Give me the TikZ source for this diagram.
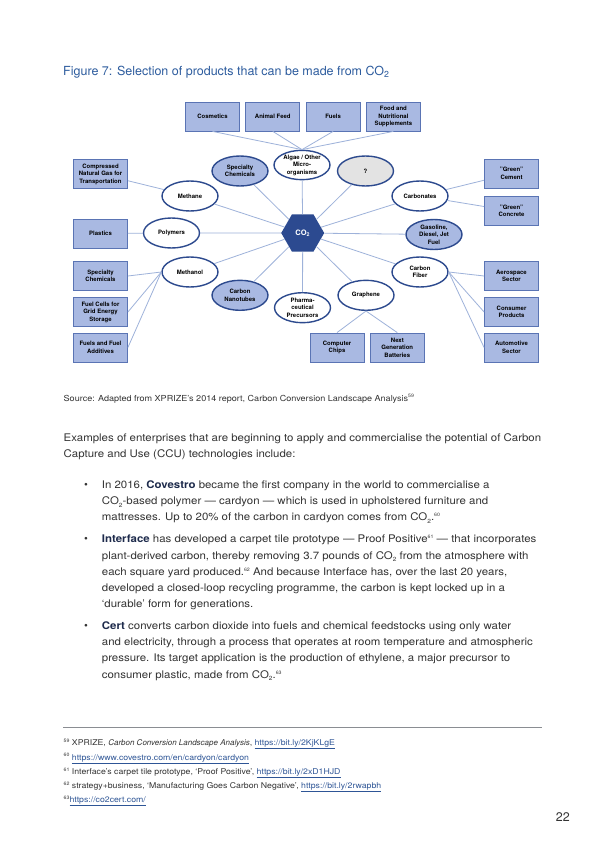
\documentclass[tikz,border=0pt]{standalone}
\usepackage{fontspec}
\setmainfont{TeX Gyre Heros}
\newfontfamily\neueface{TeX Gyre Heros}[FakeStretch=1.09]
\newfontfamily\plainface{TeX Gyre Heros}
\usetikzlibrary{shapes.geometric, positioning}

\definecolor{boxfill}{HTML}{A9B9E2}
\definecolor{boxline}{HTML}{5A74B4}
\definecolor{ringline}{HTML}{2D4A8E}
\definecolor{hexfill}{HTML}{2C4A90}
\definecolor{linkcol}{HTML}{9EB2DA}
\definecolor{unknownfill}{HTML}{E3E3E3}
\definecolor{titleblue}{HTML}{2D5C9E}
\definecolor{bodytext}{HTML}{333333}
\definecolor{namecol}{HTML}{1E2B4C}
\definecolor{urlcol}{HTML}{2E5596}
\definecolor{rulecol}{HTML}{8A8D92}

\newcommand{\labelfont}{\fontsize{6}{7.5}\selectfont\bfseries}
\newcommand{\bodyfont}{\neueface\fontsize{10.5}{16.2}\selectfont}
\newcommand{\notefont}{\neueface\fontsize{8}{10}\selectfont}
\newcommand{\weburl}[1]{\textcolor{urlcol}{\underline{#1}}}
\newcommand{\fnmark}[1]{\raisebox{0.75ex}{\fontsize{4.8}{5}\selectfont #1}}
\newcommand{\subtwo}{\raisebox{-0.45ex}{\fontsize{6}{6}\selectfont 2}}
\newcommand{\coname}[1]{\textcolor{namecol}{\bfseries #1}}

\begin{document}
\begin{tikzpicture}[x=1pt, y=-1pt, node distance=5.5pt,
    prodbox/.style={draw=boxline, fill=boxfill, line width=0.8pt, minimum width=54pt,
      minimum height=29pt, inner sep=1pt, font=\labelfont, align=center},
    route/.style={ellipse, draw=ringline, fill=white, line width=1.4pt, minimum width=56pt,
      minimum height=30pt, inner sep=0pt, font=\labelfont, align=center},
    routefill/.style={route, fill=boxfill},
    link/.style={draw=linkcol, line width=0.8pt},
    bodytxt/.style={anchor=north west, inner sep=0pt, align=left, font=\bodyfont, text=bodytext},
    dotmark/.style={anchor=base, inner sep=0pt, font=\fontsize{11}{12}\selectfont, text=bodytext},
    noteline/.style={anchor=base west, inner sep=0pt, font=\notefont, text=bodytext}]
  \useasboundingbox[fill=white] (0,0) rectangle (612,859);

  \node[anchor=base west, inner sep=0pt, font=\fontsize{12.5}{15}\selectfont, text=titleblue] (title) at (63,75.5)
    {Figure 7: Selection of products that can be made from CO\textsubscript{2}};

  % top row
  \node[prodbox] (cosmetics) at (212.5,116.5) {Cosmetics};
  \node[prodbox, right=of cosmetics] (feed) {Animal Feed};
  \node[prodbox, right=of feed] (fuels) {Fuels};
  \node[prodbox, right=of fuels] (food) {Food and\\Nutritional\\Supplements};

  % left column
  \node[prodbox] (cng) at (100.5,174) {Compressed\\Natural Gas for\\Transportation};
  \node[prodbox] (plastics) at (100.5,233.5) {Plastics};
  \node[prodbox] (chembox) at (100.5,276) {Specialty\\Chemicals};
  \node[prodbox] (fuelcells) at (100.5,312) {Fuel Cells for\\Grid Energy\\Storage};
  \node[prodbox] (additives) at (100.5,347.5) {Fuels and Fuel\\Additives};

  % right column
  \node[prodbox] (cement) at (511.5,173.5) {"Green"\\Cement};
  \node[prodbox] (concrete) at (511.5,211) {"Green"\\Concrete};
  \node[prodbox] (aerospace) at (511.5,276) {Aerospace\\Sector};
  \node[prodbox] (consumer) at (511.5,312) {Consumer\\Products};
  \node[prodbox] (automotive) at (511.5,347.5) {Automotive\\Sector};

  % bottom row
  \node[prodbox] (chips) at (337,347.5) {Computer\\Chips};
  \node[prodbox, right=of chips] (batteries) {Next\\Generation\\Batteries};

  % routes
  \node[routefill] (chem) at (240,171) {Specialty\\Chemicals};
  \node[route, minimum height=28pt] (algae) at (302,165) {Algae / Other\\Micro-\\organisms};
  \node[route, fill=unknownfill] (unknown) at (365.5,171) {?};
  \node[route] (methane) at (190,196) {Methane};
  \node[route] (carbonates) at (420,196) {Carbonates};
  \node[route] (polymers) at (171.5,233) {Polymers};
  \node[routefill] (gasoline) at (434,234.5) {Gasoline,\\Diesel, Jet\\Fuel};
  \node[route] (methanol) at (190,272) {Methanol};
  \node[route] (fiber) at (420,272) {Carbon\\Fiber};
  \node[routefill] (nanotubes) at (240,295.3) {Carbon\\Nanotubes};
  \node[route] (pharma) at (302.5,307.7) {Pharma-\\ceutical\\Precursors};
  \node[route] (graphene) at (366,295.3) {Graphene};

  \node[regular polygon, regular polygon sides=6, minimum size=43pt, inner sep=0pt, fill=hexfill,
    text=white, font=\fontsize{7.5}{9}\selectfont\bfseries] (co2) at (302.7,233) {CO\textsubscript{2}};

  % connectors
  \foreach \n in {chem, algae, unknown, methane, carbonates, polymers, gasoline, methanol, fiber, nanotubes, pharma, graphene}
    \draw[link] (co2) -- (\n);
  \foreach \n in {cosmetics, feed, fuels, food}
    \draw[link] (\n.south) -- (algae.north);
  \draw[link] (cng) -- (methane);
  \draw[link] (plastics) -- (polymers);
  \foreach \n in {chembox, fuelcells, additives}
    \draw[link] (methanol.west) -- (\n.east);
  \draw[link] (carbonates) -- (cement);
  \draw[link] (carbonates) -- (concrete);
  \foreach \n in {aerospace, consumer, automotive}
    \draw[link] (fiber.east) -- (\n.west);
  \draw[link] (graphene.south) -- (chips.north);
  \draw[link] (graphene.south) -- (batteries.north);

  % text below the figure
  \node[anchor=base west, inner sep=0pt, font=\neueface\fontsize{8.3}{10}\selectfont, text=bodytext] (source) at (63.5,401)
    {Source: Adapted from XPRIZE’s 2014 report, Carbon Conversion Landscape Analysis\fnmark{59}};

  \node[bodytxt] (intro) at (63.5,429.6)
    {\strut Examples of enterprises that are beginning to apply and commercialise the potential of Carbon\\
     Capture and Use (CCU) technologies include:};

  \node[dotmark] (dot1) at (86,488.4) {\textbullet};
  \node[bodytxt] (covestro) at (101.7,477)
    {\strut In 2016, \coname{Covestro} became the first company in the world to commercialise a\\
     CO\subtwo-based polymer — cardyon — which is used in upholstered furniture and\\
     mattresses. Up to 20\% of the carbon in cardyon comes from CO\subtwo.\fnmark{60}};

  \node[dotmark] (dot2) at (86,542.7) {\textbullet};
  \node[bodytxt] (interface) at (101.7,531.3)
    {\strut\coname{Interface} has developed a carpet tile prototype — Proof Positive\fnmark{61} — that incorporates\\
     plant-derived carbon, thereby removing 3.7 pounds of CO\subtwo{} from the atmosphere with\\
     each square yard produced.\fnmark{62} And because Interface has, over the last 20 years,\\
     developed a closed-loop recycling programme, the carbon is kept locked up in a\\
     ‘durable’ form for generations.};

  \node[dotmark] (dot3) at (86,629.4) {\textbullet};
  \node[bodytxt] (cert) at (101.7,618)
    {\strut\coname{Cert} converts carbon dioxide into fuels and chemical feedstocks using only water\\
     and electricity, through a process that operates at room temperature and atmospheric\\
     pressure. Its target application is the production of ethylene, a major precursor to\\
     consumer plastic, made from CO\subtwo.\fnmark{63}};

  % footnotes
  \coordinate (ruleL) at (63,727.3);
  \coordinate (ruleR) at (541.7,727.3);
  \draw[rulecol, line width=1.4pt] (ruleL) -- (ruleR);
  \node[noteline] (note59) at (63.5,745.5)
    {\fnmark{59} XPRIZE, {\plainface\itshape Carbon Conversion Landscape Analysis}, \weburl{https://bit.ly/2KjKLgE}};
  \node[noteline] (note60) at (63.5,760)
    {\fnmark{60} \weburl{https://www.covestro.com/en/cardyon/cardyon}};
  \node[noteline] (note61) at (63.5,774.2)
    {\fnmark{61} Interface’s carpet tile prototype, ‘Proof Positive’, \weburl{https://bit.ly/2xD1HJD}};
  \node[noteline] (note62) at (63.5,788.5)
    {\fnmark{62} strategy+business, ‘Manufacturing Goes Carbon Negative’, \weburl{https://bit.ly/2rwapbh}};
  \node[noteline] (note63) at (63.5,802.5)
    {\fnmark{63}\weburl{https://co2cert.com/}};

  \node[anchor=base east, inner sep=0pt, font=\fontsize{12.5}{15}\selectfont, text=bodytext] (pagenum) at (570,821.5) {22};
\end{tikzpicture}
\end{document}
